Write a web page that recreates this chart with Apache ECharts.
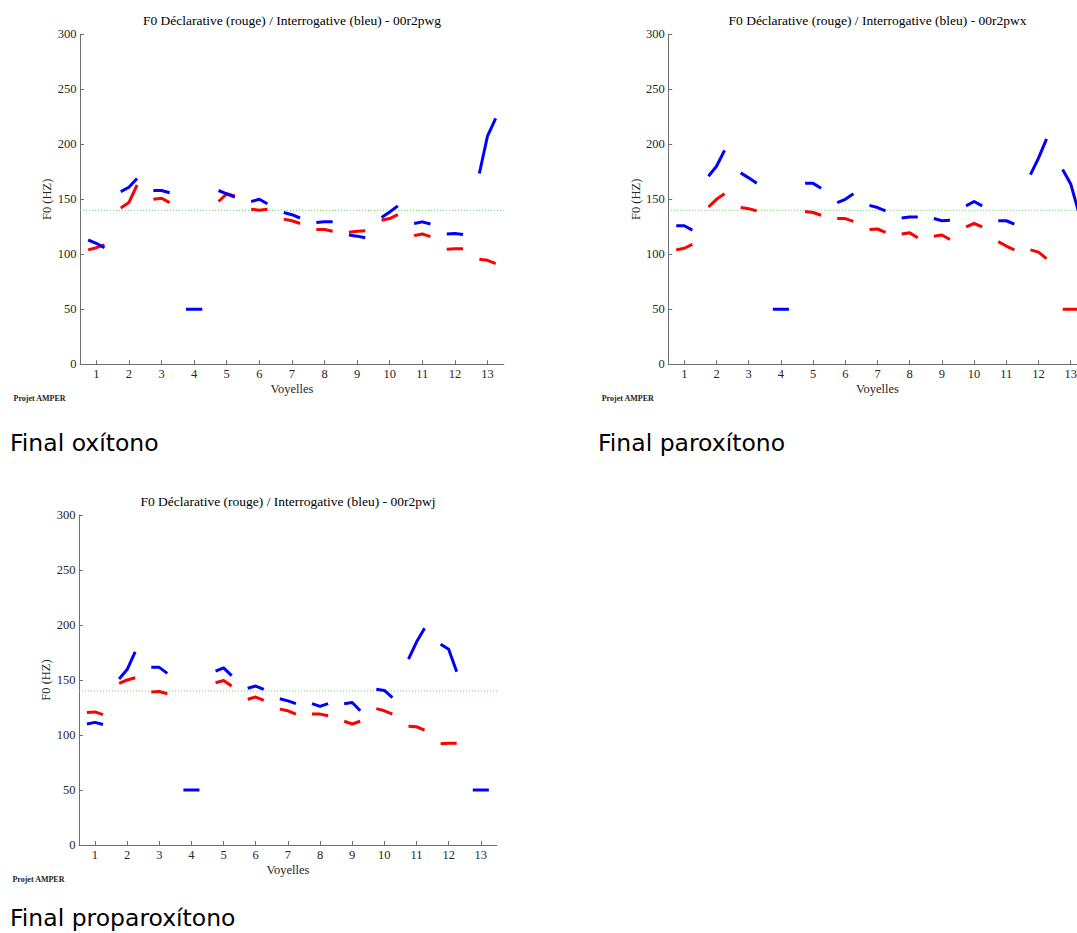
<!DOCTYPE html>
<html>
<head>
<meta charset="utf-8">
<script src="https://cdn.jsdelivr.net/npm/echarts@6/dist/echarts.min.js"></script>
<style>
html,body{margin:0;padding:0;background:#fff;overflow:hidden;}
#c{position:absolute;left:0;top:0;width:1077px;height:933px;}
</style>
</head>
<body>
<div id="c"></div>
<script>
// ---------- data (F0 in Hz, three samples per vowel: start, middle, end) ----------
const vowelTicks = [1,2,3,4,5,6,7,8,9,10,11,12,13];
const yTicksMax = 300;
const referenceF0 = 140;

const titles = [
  'F0 Déclarative (rouge) / Interrogative (bleu) - 00r2pwg',
  'F0 Déclarative (rouge) / Interrogative (bleu) - 00r2pwx',
  'F0 Déclarative (rouge) / Interrogative (bleu) - 00r2pwj'
];
const captions = ['Final oxítono', 'Final paroxítono', 'Final proparoxítono'];

// Final oxítono (00r2pwg)
const oxiDecl = [[104,106,108.5],[142,147,163],[150,151,147],null,[148,155,153],[141,140,141],[132,130.5,128],[122.5,122.5,121],[120,121,121.5],[131,132.5,136],[117,118.5,116],[104.5,105,105],[95.5,94.5,91.5]];
const oxiInter = [[113,110,106],[157,161,169],[158,158,156],[50,50,50],[158,155,152],[148,150,146],[138,136,133],[129,129.5,129.5],[117.5,116.5,115],[133.5,138.5,144],[128,129.5,127.5],[118.5,119,118],[173.5,207.5,223.5]];

// Final paroxítono (00r2pwx)
const paroxDecl = [[104,105.5,109],[143,150,155],[142.5,141.5,139.5],null,[139,138,135.5],[132.5,132.5,130],[122.5,123,120],[118.5,119.5,115],[116.5,117.5,113.5],[125,128,125],[111.5,107.5,104],[104,102,96],[50,50,50]];
const paroxInter = [[126,126,122],[171,180,194.5],[174,169.5,164.5],[50,50,50],[164.5,164.5,160],[147,150,155],[144.5,142.5,139.5],[133,134,134],[132.5,130.5,131],[144,148,144],[130.5,130.5,127.5],[172.5,187.5,205],[177,164,138]];

// Final proparoxítono (00r2pwj)
const proparDecl = [[120.5,121,118.5],[147,150,152],[139,139.5,137.5],null,[147.5,149.5,144.5],[132.5,134.5,131.5],[123.5,122,119],[119,119,117.5],[112.5,110,112.5],[124,122,119],[108,107.5,104.5],[92,92.5,92.5],null];
const proparInter = [[110,111.5,109.5],[151,159.5,175.5],[161.5,161.5,156],[50,50,50],[158,161,154],[142.5,144.5,141.5],[133,131,128.5],[128.5,126,128.5],[128.5,129.5,122],[141.5,140.5,134],[169,184.5,197],[182.5,178,157.5],[50,50,50]];

// ---------- layout / style ----------
const panels = [
  {decl: oxiDecl, inter: oxiInter, grid: {left: 80, top: 34.3, width: 423.8, height: 330}, cap: {x: 10, y: 443}},
  {decl: paroxDecl, inter: paroxInter, grid: {left: 668.2, top: 34.3, width: 418.6, height: 330}, cap: {x: 598, y: 443}},
  {decl: proparDecl, inter: proparInter, grid: {left: 78.9, top: 515, width: 418, height: 330}, cap: {x: 10, y: 918}}
];
const SERIF = '"Liberation Serif","Times New Roman",serif';
const axisColor = '#6e6e6e';
const textColor = '#262626';

function toSegments(arr) {
  const out = [];
  arr.forEach((v, i) => {
    if (!v) return;
    const c = vowelTicks[i];
    out.push([c - 0.25, v[0]], [c, v[1]], [c + 0.25, v[2]], [c + 0.5, null]);
  });
  return out;
}

const option = {
  animation: false,
  grid: [], xAxis: [], yAxis: [], series: [], graphic: []
};

panels.forEach((p, k) => {
  option.grid.push(Object.assign({outerBoundsMode: 'none', containLabel: false}, p.grid));
  option.xAxis.push({
    type: 'value', gridIndex: k, min: 0.5, max: 13.5,
    axisLine: {show: true, onZero: false, lineStyle: {color: axisColor, width: 1}},
    axisTick: {show: true, inside: true, length: 4, customValues: vowelTicks, lineStyle: {color: axisColor}},
    axisLabel: {show: true, customValues: vowelTicks, margin: 3.5, fontFamily: SERIF, fontSize: 12.5, color: textColor},
    splitLine: {show: false},
    name: 'Voyelles', nameLocation: 'middle', nameGap: 18.5,
    nameTextStyle: {fontFamily: SERIF, fontSize: 12.5, color: textColor}
  });
  option.yAxis.push({
    type: 'value', gridIndex: k, min: 0, max: yTicksMax, interval: 50,
    axisLine: {show: true, lineStyle: {color: axisColor, width: 1}},
    axisTick: {show: true, inside: true, length: 4, lineStyle: {color: axisColor}},
    axisLabel: {margin: 3.5, fontFamily: SERIF, fontSize: 12.5, color: textColor},
    splitLine: {show: false},
    name: 'F0 (HZ)', nameLocation: 'middle', nameGap: 22, nameRotate: 90,
    nameTextStyle: {fontFamily: SERIF, fontSize: 12.5, color: textColor}
  });
  option.series.push({
    type: 'line', xAxisIndex: k, yAxisIndex: k, silent: true,
    data: [[0.5, referenceF0], [13.5, referenceF0]], showSymbol: false,
    lineStyle: {color: '#5fd35f', width: 1, type: [1, 2]}, z: 1
  });
  option.series.push({
    type: 'line', xAxisIndex: k, yAxisIndex: k, silent: true, connectNulls: false,
    data: toSegments(p.decl), showSymbol: false,
    lineStyle: {color: '#ff0000', width: 3, cap: 'butt', join: 'round'}, z: 2
  });
  option.series.push({
    type: 'line', xAxisIndex: k, yAxisIndex: k, silent: true, connectNulls: false,
    data: toSegments(p.inter), showSymbol: false,
    lineStyle: {color: '#0000ff', width: 3, cap: 'butt', join: 'round'}, z: 3
  });
  const g = p.grid;
  option.graphic.push({
    type: 'text', x: g.left + g.width / 2, y: g.top - 13.5, silent: true,
    style: {text: titles[k], fontFamily: SERIF, fontSize: 13.5, fill: '#000', textAlign: 'center', textVerticalAlign: 'middle'}
  });
  option.graphic.push({
    type: 'text', x: g.left - 66.5, y: g.top + g.height + 34, silent: true,
    style: {text: 'Projet AMPER', fontFamily: SERIF, fontSize: 8, fontWeight: 'bold', fill: '#222', textAlign: 'left', textVerticalAlign: 'middle'}
  });
  option.graphic.push({
    type: 'text', x: p.cap.x, y: p.cap.y, silent: true,
    style: {text: captions[k], fontFamily: '"DejaVu Sans",Verdana,sans-serif', fontSize: 23.5, fill: '#000', textAlign: 'left', textVerticalAlign: 'middle'}
  });
});

const chart = echarts.init(document.getElementById('c'), null, {renderer: 'svg', width: 1077, height: 933});
chart.setOption(option);
</script>
</body>
</html>
